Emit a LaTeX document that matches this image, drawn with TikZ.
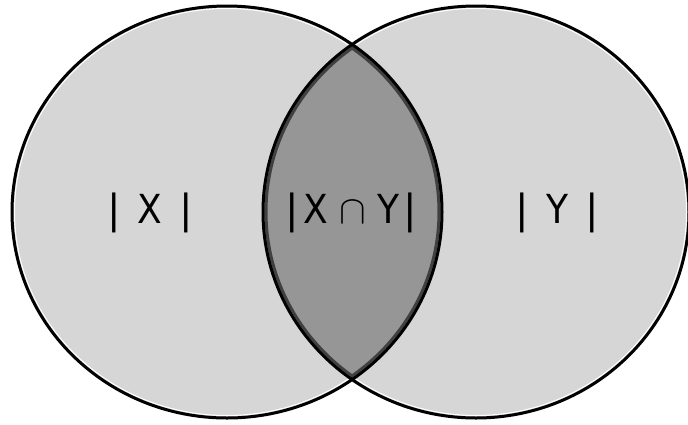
\RequirePackage{fix-cm}
\documentclass[tikz,border=0pt]{standalone}
\usepackage{fontspec}
\setmainfont{DejaVu Sans}
\usepackage{xcolor}
\definecolor{vennLight}{HTML}{D6D6D6}
\definecolor{vennDark}{HTML}{969696}
\definecolor{vennRim}{HTML}{404040}
\usetikzlibrary{positioning}

\begin{document}
\begin{tikzpicture}[x=1pt, y=-1pt,
  setlabel/.style={inner sep=0pt, font=\fontsize{40}{40}\selectfont},
  outline/.style={draw=black, line width=3pt},
  innerrim/.style={draw=white, line width=1pt}]
  \useasboundingbox (0,0) rectangle (688,424);
  % the two sets
  \def\setX{(227,212) ellipse [x radius=215pt, y radius=206pt]}
  \def\setY{(476,212) ellipse [x radius=213pt, y radius=206pt]}
  \fill[vennLight] \setX;
  \fill[vennLight] \setY;
  % intersection
  \begin{scope}
    \clip \setX;
    \fill[vennDark] \setY;
  \end{scope}
  \draw[innerrim] (227,212) ellipse [x radius=212.5pt, y radius=203.5pt];
  \draw[innerrim] (476,212) ellipse [x radius=210.5pt, y radius=203.5pt];
  \begin{scope}
    \clip \setY;
    \draw[vennRim, line width=3pt] (227,212) ellipse [x radius=212pt, y radius=203pt];
  \end{scope}
  \begin{scope}
    \clip \setX;
    \draw[vennRim, line width=3pt] (476,212) ellipse [x radius=210pt, y radius=203pt];
  \end{scope}
  \draw[outline] \setX;
  \draw[outline] \setY;
  % labels
  \node[setlabel] (sizeX) at (150,213) {|\hspace{17pt}\scalebox{0.9}[1]{X}\hspace{17pt}|};
  \node[setlabel] (sizeXY) at (351,213) {|\hspace{5pt}\scalebox{0.9}[1]{X}\hspace{11pt}$\cap$\hspace{11pt}\scalebox{0.9}[1]{Y}\hspace{4pt}|};
  \node[setlabel] (sizeY) at (557,213) {|\hspace{17pt}\scalebox{0.9}[1]{Y}\hspace{17pt}|};
\end{tikzpicture}
\end{document}
